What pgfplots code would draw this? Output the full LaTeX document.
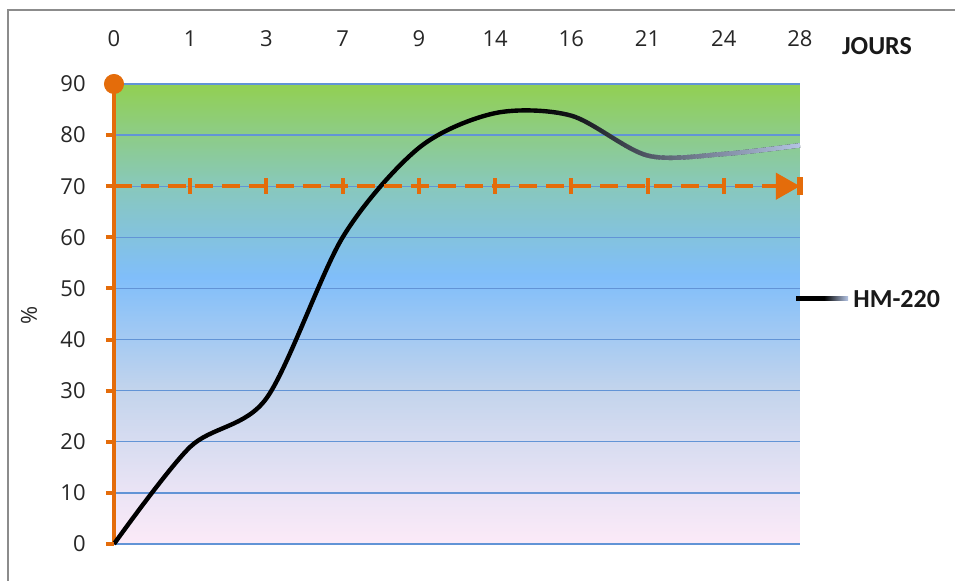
\documentclass[border=0pt]{standalone}
\usepackage{pgfplots}
\pgfplotsset{compat=1.18}
\usepackage{fontspec}
\setmainfont{Carlito}
\newfontfamily\ticfont{Open Sans}
\usetikzlibrary{arrows.meta,fadings}

\definecolor{orgX}{HTML}{E46C0A}
\definecolor{gridB}{RGB}{98,148,214}
\definecolor{frameG}{RGB}{140,140,140}
\definecolor{steelL}{RGB}{182,198,230}
\definecolor{bgPink}{RGB}{252,234,248}
\definecolor{bgLav}{RGB}{235,228,245}
\definecolor{bgGrey}{RGB}{195,212,236}
\definecolor{bgBlue}{RGB}{128,190,250}
\definecolor{bgTeal}{RGB}{136,200,188}
\definecolor{bgGreen}{RGB}{146,208,82}

% plot background, y=0 at 25bp, y=90 at 75bp
\pgfdeclareverticalshading{plotbg}{100bp}{color(0bp)=(bgPink); color(25bp)=(bgPink);
  color(30.5bp)=(bgLav); color(41.7bp)=(bgGrey); color(54bp)=(bgBlue);
  color(63.9bp)=(bgTeal); color(75bp)=(bgGreen); color(100bp)=(bgGreen)}
\pgfdeclarehorizontalshading{legsh}{100bp}{color(0bp)=(black); color(25bp)=(black);
  color(52bp)=(black); color(75bp)=(steelL); color(100bp)=(steelL)}
\pgfdeclarehorizontalshading{fadesh}{100bp}{color(0bp)=(pgftransparent!100);
  color(25bp)=(pgftransparent!100); color(38bp)=(pgftransparent!90);
  color(52bp)=(pgftransparent!50);
  color(75bp)=(pgftransparent!0); color(100bp)=(pgftransparent!0)}
\pgfdeclarefading{fadeR}{\pgfuseshading{fadesh}}

% left-pointing tick stub for the orange y axis
\pgfdeclareplotmark{ltick}{%
  \pgfpathmoveto{\pgfpoint{-4pt}{0pt}}%
  \pgfpathlineto{\pgfpoint{0pt}{0pt}}%
  \pgfusepathqstroke}

\begin{document}
\begin{tikzpicture}
\useasboundingbox (0,0) rectangle (477.5pt,290.5pt);
\draw[frameG, line width=1pt] (4pt,0) -- (4pt,285.5pt) -- (478pt,285.5pt);
\begin{axis}[
  at={(57pt,18.5pt)}, anchor=south west,
  scale only axis,
  width=343pt, height=230pt,
  xmin=0, xmax=9, ymin=0, ymax=90,
  clip=false,
  axis y line*=left,
  axis x line*=top,
  x axis line style={draw=none},
  y axis line style={orgX, line width=2pt, -},
  xtick={0,...,9},
  xticklabels={0,1,3,7,9,14,16,21,24,28},
  ytick={0,10,...,90},
  every tick/.style={draw=none},
  tick align=outside,
  major tick length=5pt,
  ymajorgrids=true,
  grid style={gridB, line width=0.7pt},
  axis background/.style={shade, shading=plotbg},
  /pgf/number format/assume math mode=true,
  tick label style={font=\ticfont\fontsize{11}{13}\selectfont, color=black!85},
  yticklabel style={anchor=east, inner sep=0pt, xshift=-9pt},
  xticklabel style={anchor=center, inner sep=0pt, yshift=17.5pt},
]
% curve HM-220
\addplot[black, line width=2.2pt, smooth] coordinates {
(0,0) (1,19) (2,28.5) (3,60) (4,77.5) (5,84.3) (6,83.8) (7,76) (8,76.3) (9,78)
};
\addplot[steelL, line width=2.3pt, smooth, path fading=fadeR] coordinates {
(5,84.3) (6,83.8) (7,76) (8,76.3) (9,78)
};
% orange 70 % line
\addplot[orgX, line width=2pt, dash pattern=on 9pt off 4.5pt,
  -{Triangle[length=12pt,width=13pt]}] coordinates {(0,70) (9,70)};
\addplot[only marks, orgX, mark=|, mark size=4pt, mark options={line width=2pt, solid}]
  coordinates {(1,70) (2,70) (3,70) (4,70) (5,70) (6,70) (7,70) (8,70)};
\addplot[only marks, orgX, mark=|, mark size=4.5pt, mark options={line width=3pt, solid}]
  coordinates {(9,70)};
% orange y axis: tick stubs and end dot
\addplot[only marks, orgX, mark=ltick, mark options={line width=2pt}] coordinates {
(0,0) (0,10) (0,20) (0,30) (0,40) (0,50) (0,60) (0,70) (0,80)
};
\addplot[only marks, orgX, mark=*, mark size=4.8pt] coordinates {(0,90)};
\end{axis}
\node[font=\ticfont\fontsize{11}{13}\selectfont, color=black!85, rotate=90] at (14.5pt,133pt) {\%};
\node[font=\bfseries\fontsize{13}{15}\selectfont, color=black!90] at (438.5pt,267.25pt) {JOURS};
\shade[shading=legsh] (398pt,140pt) rectangle (424pt,142pt);
\node[font=\bfseries\fontsize{13}{15}\selectfont, color=black!90, anchor=west, inner sep=0pt] at (426.5pt,141pt) {HM-220};
\end{tikzpicture}
\end{document}
